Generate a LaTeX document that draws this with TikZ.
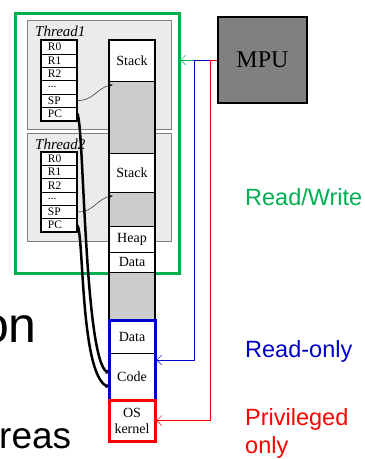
\documentclass[tikz,border=0pt]{standalone}
\usepackage{fontspec}
\setmainfont{Liberation Serif}
\setsansfont{Liberation Sans}
\usetikzlibrary{arrows.meta}
\definecolor{rwgreen}{RGB}{0,176,80}
\definecolor{roblue}{RGB}{0,0,204}
\definecolor{cellgray}{RGB}{204,204,204}
\definecolor{thrgray}{RGB}{235,235,235}
\newcommand{\regdots}{...}

\begin{document}
\begin{tikzpicture}[x=1pt, y=-1pt,
    cell/.style={draw, fill=white, minimum width=46pt, inner sep=0pt, align=center,
      font=\fontsize{14}{16}\selectfont},
    reg/.style={draw, fill=white, minimum width=36pt, minimum height=13.3pt, inner sep=0pt,
      text width=22pt, align=left, font=\fontsize{11.5}{11.5}\selectfont},
    thr/.style={draw=gray, fill=thrgray, line width=1pt, minimum width=144pt},
    thrlbl/.style={anchor=base west, inner sep=0pt, font=\itshape\fontsize{15}{15}\selectfont},
    lbl/.style={anchor=base west, inner sep=0pt, align=left, font=\sffamily\fontsize{23.5}{28}\selectfont},
    barb/.style={-{Straight Barb[length=5pt,width=10pt]}}]
    \useasboundingbox (0,0) rectangle (365,459);
    \clip (0,0) rectangle (365,459);

    % Slide text, cut off at the left
    \node[anchor=base east, inner sep=0pt, font=\sffamily\fontsize{50}{50}\selectfont] (txton) at (37,342) {on};
    \node[anchor=base west, inner sep=0pt, font=\sffamily\fontsize{37}{37}\selectfont] (txtreas) at (-1,448) {reas};

    % Read/Write area
    \node[draw=rwgreen, line width=3pt, minimum width=164pt, minimum height=260pt] (rw) at (97,143) {};

    % Threads
    \node[thr, minimum height=109pt] (thr1) at (99,74.5) {};
    \node[thr, minimum height=108pt] (thr2) at (99,187) {};
    \node[thrlbl] (thr1lbl) at (35,36) {Thread1};
    \node[thrlbl] (thr2lbl) at (35,149) {Thread2};

    % Registers
    \foreach \k/\ytop in {1/40.5, 2/152} {
      \foreach \r [count=\i] in {R0,R1,R2,\regdots,SP,PC}
        \node[reg] (t\k r\i) at (59, \ytop+13.3*\i-6.65) {\r};
      \draw[line width=2pt] (t\k r1.north west) rectangle (t\k r6.south east);
    }

    % Memory layout
    \node[cell, minimum height=41pt] (stk1) at (132,60.5) {Stack};
    \node[cell, fill=cellgray, minimum height=72pt] (gap1) at (132,117) {};
    \node[cell, minimum height=39pt] (stk2) at (132,172.5) {Stack};
    \node[cell, fill=cellgray, minimum height=34pt] (gap2) at (132,209) {};
    \node[cell, minimum height=26pt] (heap) at (132,239) {Heap};
    \node[cell, minimum height=20pt] (data1) at (132,262) {Data};
    \node[cell, fill=cellgray, minimum height=48pt] (gap3) at (132,296) {};
    \node[cell, minimum height=33pt] (data2) at (132,336.5) {Data};
    \node[cell, minimum height=47pt] (code) at (132,376.5) {Code};
    \draw[line width=2pt] (stk1.north west) rectangle (gap3.south east);
    \node[draw=roblue, line width=3pt, minimum width=46pt, minimum height=80pt] (ro) at (132,360) {};
    \node[cell, draw=red, line width=3pt, minimum height=41pt] (os) at (132,420.5) {OS\\kernel};

    % MPU
    \node[draw, line width=2pt, fill=gray, minimum width=89pt, minimum height=86pt,
      font=\fontsize{24}{24}\selectfont] (mpu) at (262.5,60) {MPU};

    % Access rights
    \draw[rwgreen, barb] (mpu.west) -- (mpu.west -| rw.east);
    \draw[roblue, barb] (mpu.west) -- ++(-23,0) |- (ro.east);
    \draw[red, barb] (mpu.west) -- ++(-7,0) |- (os.east);
    \node[lbl, text=rwgreen] (rwlbl) at (245,205) {Read/Write};
    \node[lbl, text=roblue] (rolbl) at (245,357) {Read-only};
    \node[lbl, text=red] (privlbl) at (245,453) {Privileged\\only};

    % Stack pointers
    \draw[-{Stealth[length=5pt]}] (t1r5.east) to[out=-5, in=190] ([xshift=4pt, yshift=-4pt]gap1.north west);
    \draw[-{Stealth[length=5pt]}] (t2r5.east) to[out=-5, in=190] ([xshift=4pt, yshift=-4pt]gap2.north west);

    % Program counters
    \draw[line width=2.5pt, -{Stealth[length=3pt,width=5pt]}] (t1r6.east)
      .. controls (84,120) and (84,360) .. ([yshift=3.5pt]code.west);
    \draw[line width=2.5pt, -{Stealth[length=3pt,width=5pt]}] (t2r6.east)
      .. controls (84,232) and (80,375) .. ([yshift=-10.5pt]code.west);
\end{tikzpicture}
\end{document}
